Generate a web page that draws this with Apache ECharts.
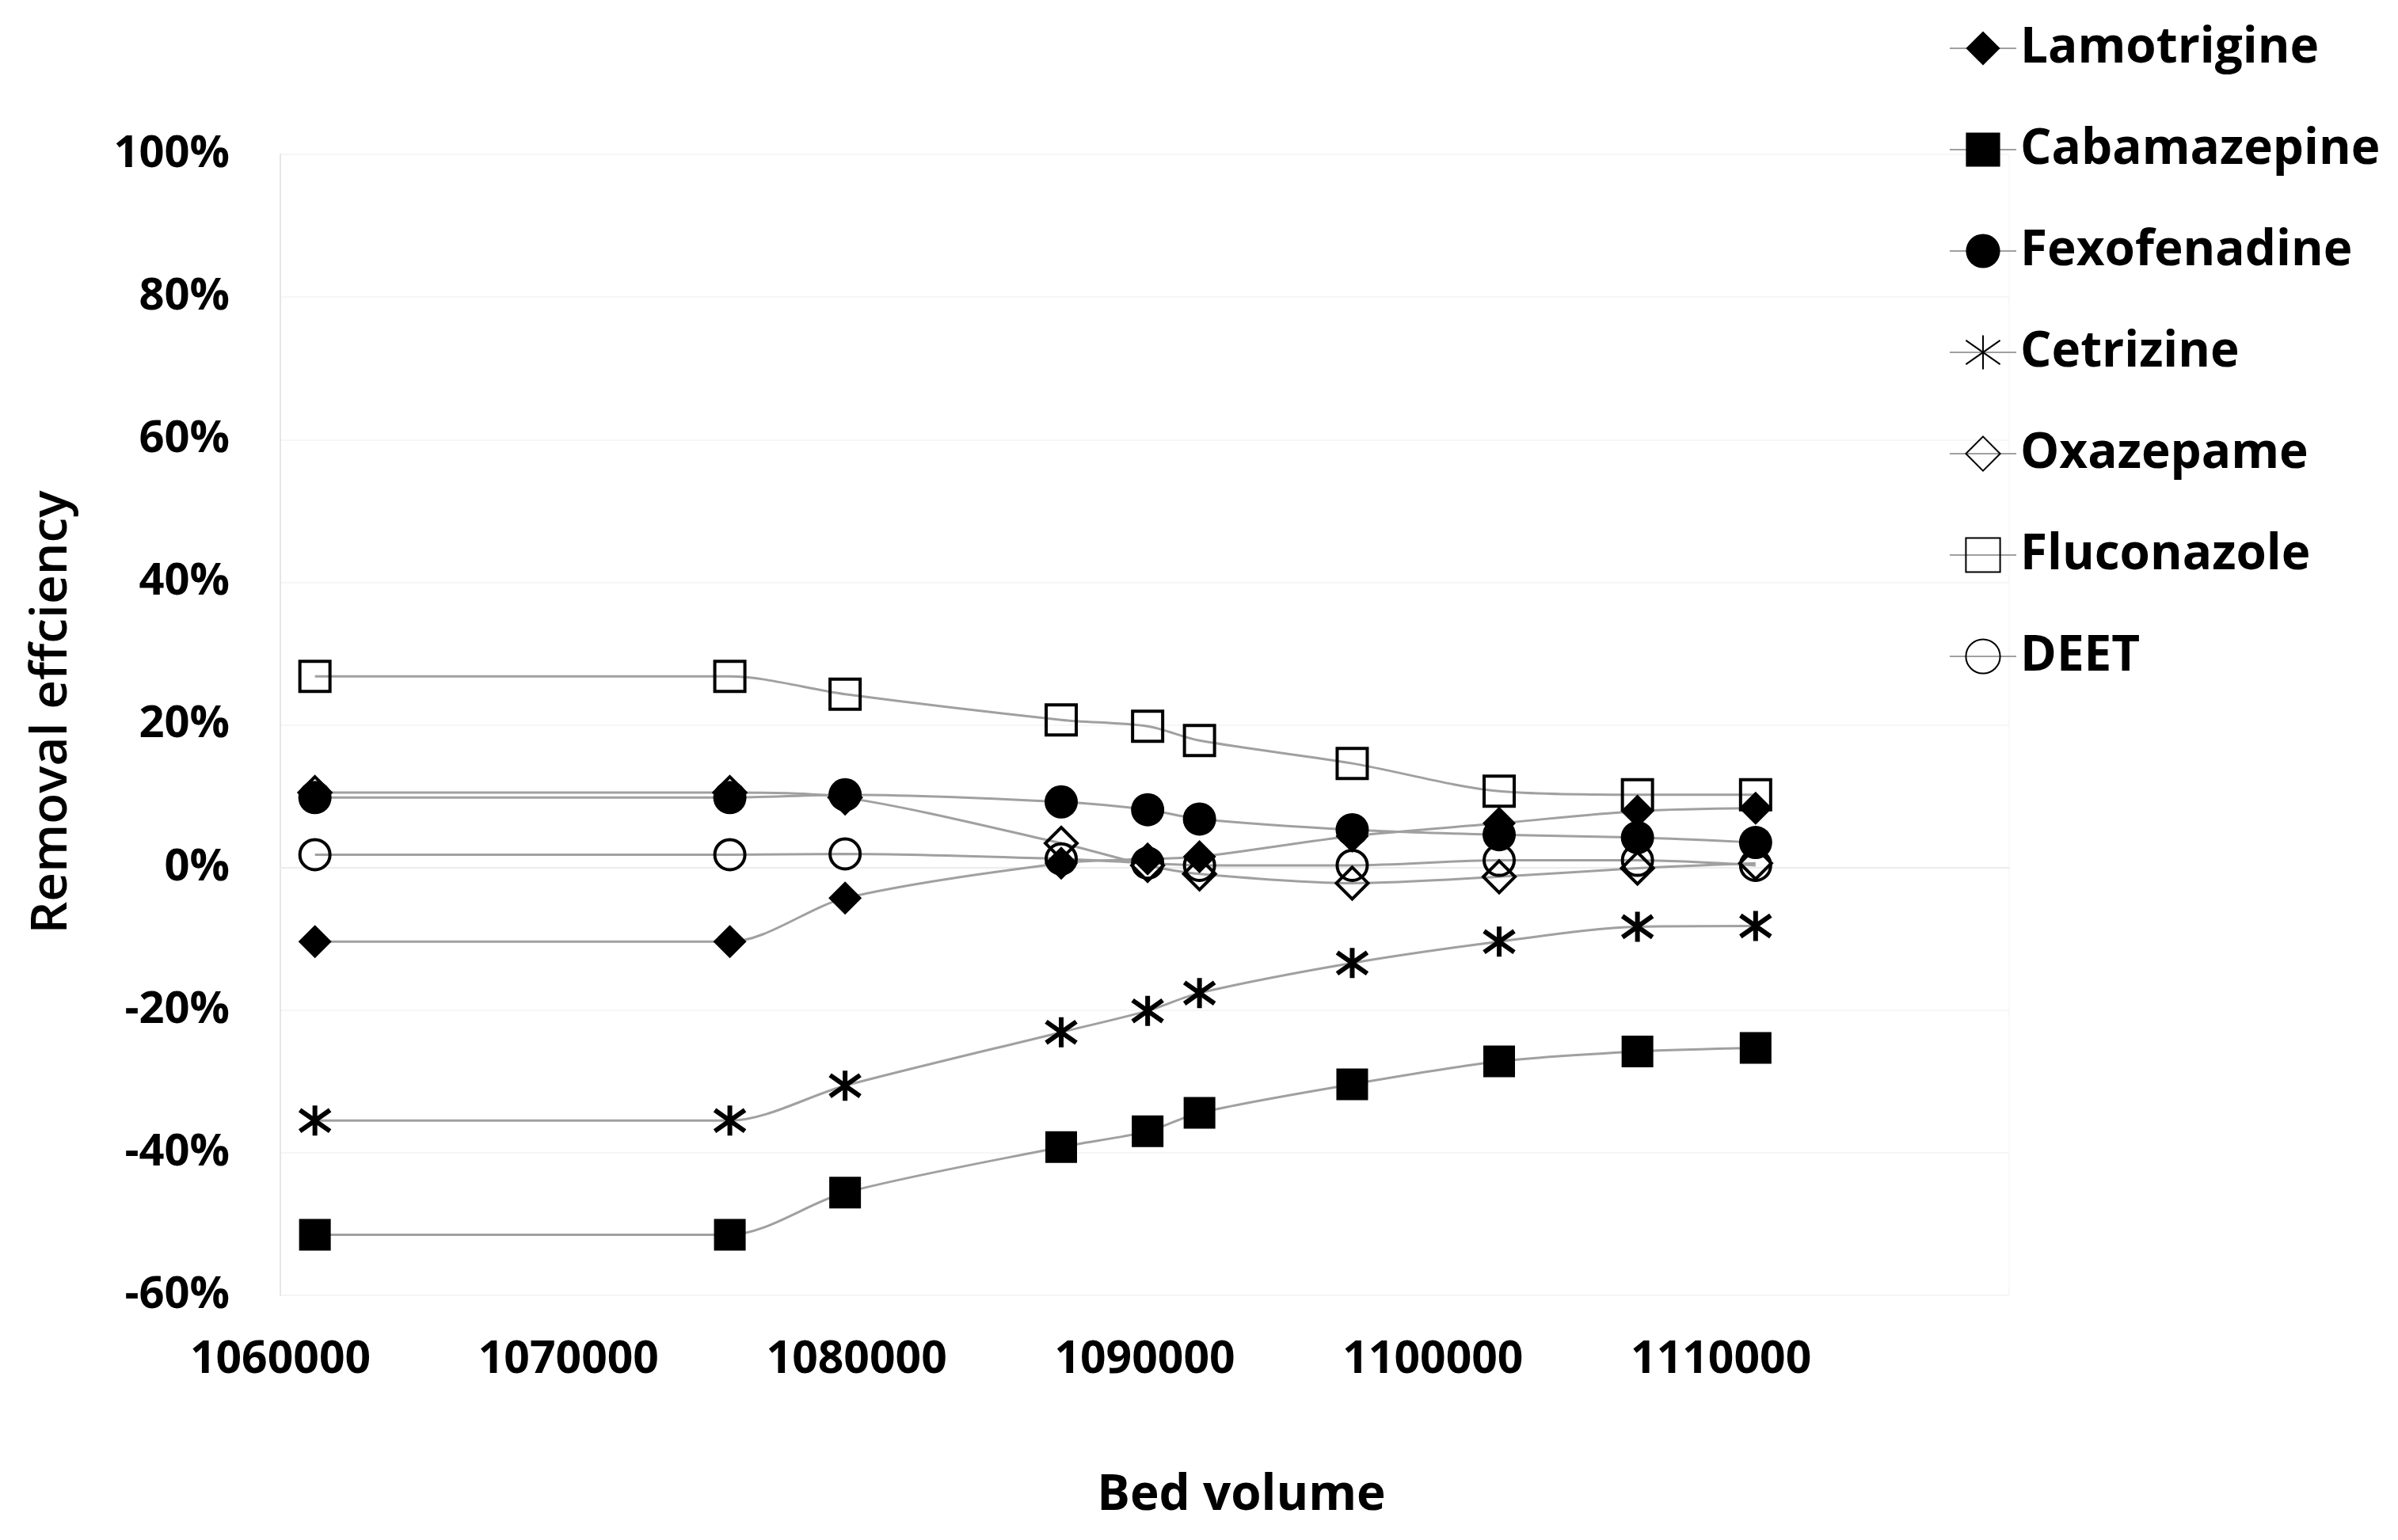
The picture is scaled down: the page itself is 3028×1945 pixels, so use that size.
<!DOCTYPE html>
<html>
<head>
<meta charset="utf-8">
<script src="https://cdn.jsdelivr.net/npm/echarts@6/dist/echarts.min.js"></script>
<style>
html,body{margin:0;padding:0;background:#fff;}
#chart{width:3028px;height:1945px;}
</style>
</head>
<body>
<div id="chart"></div>
<script>
// Bed volume (x) values
const bedVolume = [1061200, 1075600, 1079600, 1087100, 1090100, 1091900, 1097200, 1102300, 1107100, 1111200];
// Removal efficiency (%) per compound
const lamotrigine  = [-10.4, -10.4, -4.3, 0.6, 1.2, 1.5, 4.4, 6.2, 7.9, 8.3];
const cabamazepine = [-51.5, -51.5, -45.6, -39.2, -37.0, -34.4, -30.4, -27.2, -25.8, -25.3];
const fexofenadine = [9.8, 9.8, 10.2, 9.2, 8.1, 6.8, 5.3, 4.6, 4.2, 3.5];
const cetrizine    = [-35.5, -35.5, -30.6, -23.1, -20.1, -17.6, -13.4, -10.4, -8.3, -8.2];
const oxazepame    = [10.5, 10.5, 9.8, 3.4, 0.3, -0.9, -2.2, -1.3, -0.1, 0.6];
const fluconazole  = [26.8, 26.8, 24.3, 20.7, 19.8, 17.8, 14.6, 10.7, 10.2, 10.2];
const deet         = [1.8, 1.8, 1.9, 1.2, 0.6, 0.3, 0.3, 1.0, 1.0, 0.3];
// Axis ticks
const yTicks = {min: -60, max: 100, interval: 20};
const xTicks = {min: 1060000, max: 1120000, interval: 10000};

const FONT = '"Open Sans", "Liberation Sans", sans-serif';
const LINE = {color: '#a0a0a0', width: 3};
const asterisk = 'path://M0,-10L0,10M-8,-7L8,7M-8,7L8,-7';

function mk(name, vals, symbol, size, filled, bw) {
  return {
    name: name,
    type: 'line',
    smooth: 0.3,
    data: bedVolume.map((x, i) => [x, vals[i]]),
    symbol: symbol,
    symbolSize: size,
    showAllSymbol: true,
    lineStyle: LINE,
    itemStyle: filled
      ? {color: '#000', borderColor: '#000', borderWidth: 0}
      : {color: 'rgba(0,0,0,0)', borderColor: '#000', borderWidth: bw || 4},
    emphasis: {disabled: true}
  };
}

const chart = echarts.init(document.getElementById('chart'));
chart.setOption({
  animation: false,
  backgroundColor: '#ffffff',
  grid: {left: 354, top: 195, right: 491, bottom: 309, show: true, borderColor: '#f2f2f2', borderWidth: 1},
  legend: {
    orient: 'vertical',
    left: 2456,
    top: 25,
    itemWidth: 84,
    itemHeight: 54,
    itemGap: 66,
    textStyle: {fontFamily: FONT, fontWeight: 'bold', fontSize: 62, color: '#000'}
  },
  xAxis: {
    type: 'value',
    min: xTicks.min,
    max: xTicks.max,
    interval: xTicks.interval,
    name: 'Bed volume',
    nameLocation: 'middle',
    nameGap: 222,
    nameTextStyle: {fontFamily: FONT, fontWeight: 'bold', fontSize: 62, color: '#000', padding: [0, 0, 0, 244]},
    axisLine: {show: true, lineStyle: {color: '#ececec', width: 2}},
    axisTick: {show: false},
    splitLine: {show: false},
    axisLabel: {
      fontFamily: FONT, fontWeight: 'bold', fontSize: 57, color: '#000',
      margin: 53, lineHeight: 58, showMaxLabel: false,
      formatter: v => String(v)
    }
  },
  yAxis: {
    type: 'value',
    min: yTicks.min,
    max: yTicks.max,
    interval: yTicks.interval,
    name: 'Removal effciency',
    nameLocation: 'middle',
    nameGap: 256,
    nameRotate: 90,
    nameTextStyle: {fontFamily: FONT, fontWeight: 600, fontSize: 64, color: '#000', padding: [0, 0, 0, 32]},
    axisLine: {show: true, lineStyle: {color: '#e6e6e6', width: 2}},
    axisTick: {show: false},
    splitLine: {show: true, lineStyle: {color: '#f6f6f6', width: 2}},
    axisLabel: {
      fontFamily: FONT, fontWeight: 'bold', fontSize: 56, color: '#000', margin: 64,
      formatter: '{value}%'
    }
  },
  series: [
    mk('Lamotrigine', lamotrigine, 'diamond', 42, true),
    mk('Cabamazepine', cabamazepine, 'rect', 40, true),
    mk('Fexofenadine', fexofenadine, 'circle', 42, true),
    mk('Cetrizine', cetrizine, asterisk, 38, false, 6),
    mk('Oxazepame', oxazepame, 'diamond', 40, false),
    mk('Fluconazole', fluconazole, 'rect', 38, false),
    mk('DEET', deet, 'circle', 38, false)
  ]
});
</script>
</body>
</html>
